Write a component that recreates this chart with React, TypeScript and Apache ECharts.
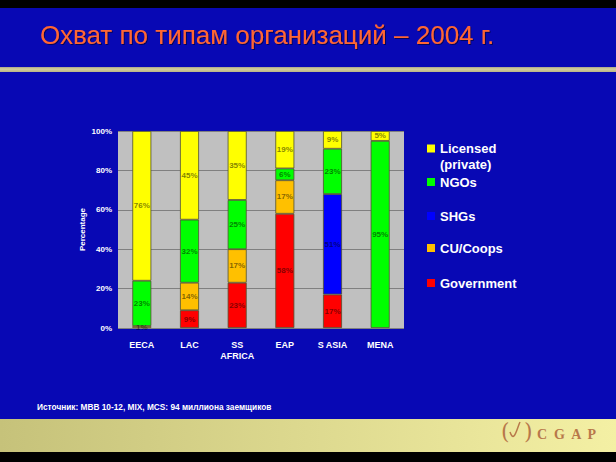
import React, { useEffect, useRef } from 'react';
import * as echarts from 'echarts';

const categories = ['EECA', 'LAC', 'SS\nAFRICA', 'EAP', 'S ASIA', 'MENA'];
const government = [0, 9, 23, 58, 17, 0];
const cuCoops = [1, 14, 17, 17, 0, 0];
const shgs = [0, 0, 0, 0, 51, 0];
const ngos = [23, 32, 25, 6, 23, 95];
const licensed = [76, 45, 35, 19, 9, 5];

const seriesDefs = [
  { name: 'Government', data: government, color: '#FF0000', legendTop: 275.5 },
  { name: 'CU/Coops', data: cuCoops, color: '#FFC000', legendTop: 240.5 },
  { name: 'SHGs', data: shgs, color: '#0000FF', legendTop: 208.5 },
  { name: 'NGOs', data: ngos, color: '#00FF00', legendTop: 174.5 },
  { name: 'Licensed (private)', data: licensed, color: '#FFFF00', legendTop: 141 },
];

const titleText = 'Охват по типам организаций – 2004 г.';
const sourceText = 'Источник: MBB 10-12, MIX, MCS: 94 миллиона заемщиков';

const FONT = '"Liberation Sans", Arial, sans-serif';
const LOGO = '#B8784A';

export default function App() {
  const ref = useRef<HTMLDivElement>(null);

  useEffect(() => {
    if (!ref.current) return;
    const chart = echarts.init(ref.current, null, { renderer: 'svg' });

    const option: any = {
      animation: false,
      backgroundColor: '#0808B4',
      title: {
        text: titleText,
        left: 35,
        top: 17,
        textStyle: {
          color: '#FF6633',
          fontSize: 26,
          fontWeight: 'normal',
          fontFamily: FONT,
          textShadowColor: 'rgba(0,0,0,0.5)',
          textShadowBlur: 1,
          textShadowOffsetX: 1,
          textShadowOffsetY: 1,
        },
      },
      graphic: [
        { type: 'rect', z: -10, shape: { x: 0, y: 0, width: 616, height: 8 }, style: { fill: '#000000' } },
        {
          type: 'rect', z: -10, shape: { x: 0, y: 67, width: 616, height: 5 },
          style: {
            fill: new echarts.graphic.LinearGradient(0, 0, 0, 1, [
              { offset: 0, color: '#A8A48C' },
              { offset: 0.4, color: '#D4D09C' },
              { offset: 1, color: '#B8B488' },
            ]),
          },
        },
        {
          type: 'rect', z: -10, shape: { x: 0, y: 419, width: 616, height: 33 },
          style: {
            fill: new echarts.graphic.LinearGradient(0, 0, 1, 0, [
              { offset: 0, color: '#C6C27A' },
              { offset: 1, color: '#F4F0A4' },
            ]),
          },
        },
        { type: 'rect', z: -10, shape: { x: 0, y: 452, width: 616, height: 10 }, style: { fill: '#000000' } },
        {
          type: 'text', left: 37, top: 402.5,
          style: { text: sourceText, fill: '#FFFFFF', font: 'bold 8.3px ' + FONT },
        },
        {
          type: 'text', left: 440, top: 158,
          style: { text: '(private)', fill: '#FFFFFF', font: 'bold 13px ' + FONT },
        },
        {
          type: 'text', left: 501, top: 420,
          style: { text: '(', fill: LOGO, font: '22px "DejaVu Serif", serif' },
        },
        {
          type: 'text', left: 524, top: 420,
          style: { text: ')', fill: LOGO, font: '22px "DejaVu Serif", serif' },
        },
        {
          type: 'bezierCurve',
          shape: { x1: 510, y1: 432, cpx1: 514, cpy1: 444, x2: 520, y2: 422, cpx2: 517, cpy2: 428 },
          style: { stroke: LOGO, lineWidth: 1.5, fill: 'none' },
        },
        {
          type: 'text', left: 537, top: 427,
          style: { text: 'C  G  A  P', fill: LOGO, font: 'bold 14px "Liberation Serif", "DejaVu Serif", serif' },
        },
      ],
      legend: seriesDefs.map((s) => ({
        data: [s.name],
        orient: 'vertical',
        left: 427,
        top: s.legendTop,
        padding: 0,
        icon: 'rect',
        itemWidth: 8,
        itemHeight: 8,
        itemGap: 0,
        selectedMode: false,
        itemStyle: { borderWidth: 0 },
        formatter: (n: string) => (n === 'Licensed (private)' ? 'Licensed' : n),
        textStyle: { color: '#FFFFFF', fontSize: 13, fontWeight: 'bold', fontFamily: FONT, lineHeight: 15 },
      })),
      grid: {
        left: 118,
        top: 131,
        width: 286,
        height: 197,
        show: true,
        backgroundColor: '#C0C0C0',
        borderWidth: 0,
      },
      xAxis: {
        type: 'category',
        data: categories,
        axisLine: { show: false },
        axisTick: { show: false },
        axisLabel: {
          color: '#FFFFFF',
          fontSize: 9,
          fontWeight: 'bold',
          fontFamily: FONT,
          margin: 11,
          lineHeight: 11,
          interval: 0,
        },
      },
      yAxis: {
        type: 'value',
        min: 0,
        max: 100,
        interval: 20,
        name: 'Percentage',
        nameLocation: 'middle',
        nameGap: 32,
        nameRotate: 90,
        nameTextStyle: { color: '#FFFFFF', fontSize: 8, fontWeight: 'bold', fontFamily: FONT },
        axisLine: { show: false },
        axisTick: { show: false },
        splitLine: { show: true, lineStyle: { color: '#808080', width: 1 } },
        axisLabel: {
          color: '#FFFFFF',
          fontSize: 8,
          fontWeight: 'bold',
          fontFamily: FONT,
          margin: 6,
          formatter: '{value}%',
        },
      },
      series: seriesDefs.map((s) => ({
        name: s.name,
        type: 'bar',
        stack: 'total',
        barWidth: 19,
        data: s.data.map((v) => (v === 0 ? null : v)),
        itemStyle: { color: s.color, borderColor: '#505030', borderWidth: 0.8 },
        label: {
          show: true,
          position: 'inside',
          formatter: (p: any) => (p.value ? p.value + '%' : ''),
          color: 'rgba(0,0,0,0.5)',
          fontSize: 8,
          fontWeight: 'bold',
          fontFamily: FONT,
        },
      })),
    };

    chart.setOption(option);
    return () => chart.dispose();
  }, []);

  return (
    <div
      ref={ref}
      style={{ position: 'absolute', left: 0, top: 0, width: 616, height: 462 }}
    />
  );
}
